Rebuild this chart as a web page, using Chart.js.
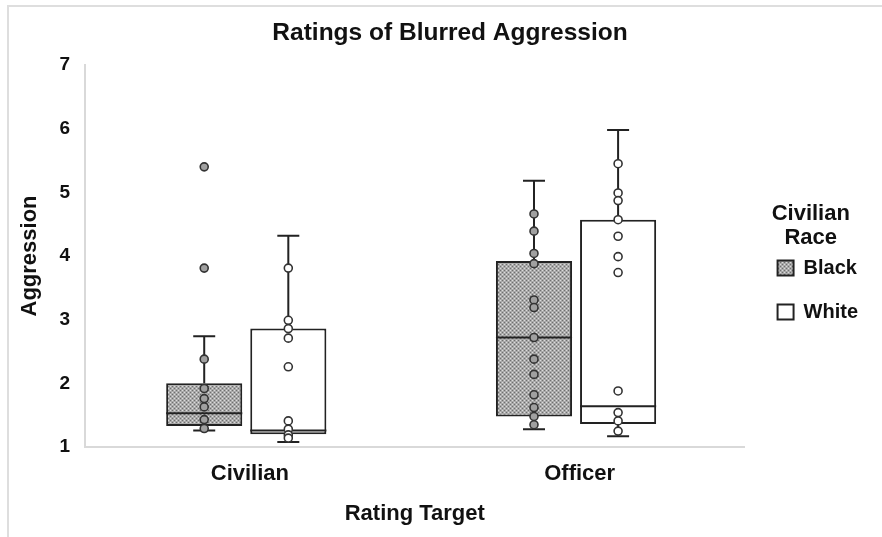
<!DOCTYPE html>
<html>
<head>
<meta charset="utf-8">
<script src="https://cdn.jsdelivr.net/npm/chart.js@4.4.1/dist/chart.umd.min.js"></script>
<style>
  html, body { margin: 0; padding: 0; background: #fff; }
  #wrap { position: relative; width: 882px; height: 537px; overflow: hidden; }
  #frame { position: absolute; left: 7px; top: 5px; width: 900px; height: 600px;
           border-top: 2px solid #dedede; border-left: 2px solid #dedede; }
  canvas { position: absolute; left: 0; top: 0; }
</style>
</head>
<body>
<div id="wrap">
  <div id="frame"></div>
  <canvas id="boxChart" width="882" height="537"></canvas>
</div>
<script>
const categories = ["Civilian", "Officer"];
const raceLabels = ["Black", "White"];

// box statistics, one value per category
const blackQ1 = [1.33, 1.48];
const blackQ3 = [2.00, 3.92];
const blackMedian = [1.53, 2.72];
const blackWhiskerLow = [1.26, 1.28];
const blackWhiskerHigh = [2.74, 5.18];

const whiteQ1 = [1.20, 1.36];
const whiteQ3 = [2.86, 4.57];
const whiteMedian = [1.26, 1.64];
const whiteWhiskerLow = [1.08, 1.17];
const whiteWhiskerHigh = [4.32, 5.98];

// individual ratings
const blackCivilianPoints = [5.40, 3.81, 2.38, 1.92, 1.76, 1.63, 1.43, 1.29];
const blackOfficerPoints = [4.66, 4.39, 4.04, 3.88, 3.31, 3.19, 2.72, 2.38, 2.14, 1.82, 1.62, 1.48, 1.35];
const whiteCivilianPoints = [3.81, 2.99, 2.86, 2.71, 2.26, 1.41, 1.28, 1.19, 1.14];
const whiteOfficerPoints = [5.45, 4.99, 4.87, 4.57, 4.31, 3.99, 3.74, 1.88, 1.54, 1.41, 1.25];

const yTicks = [1, 2, 3, 4, 5, 6, 7];

// black box sits left of the category, white box right
const shift = 0.1275;
const nudge = -0.011; // boxes sit a touch left of the labels in the original

// dotted grey fill like the original
function makePattern() {
  const c = document.createElement('canvas');
  c.width = 4; c.height = 4;
  const g = c.getContext('2d');
  g.fillStyle = '#a9a9a9';
  g.fillRect(0, 0, 4, 4);
  g.fillStyle = '#dcdcdc';
  g.fillRect(0, 0, 1, 1);
  g.fillRect(2, 2, 1, 1);
  g.fillStyle = '#6f6f6f';
  g.fillRect(2, 0, 1, 1);
  g.fillRect(0, 2, 1, 1);
  return g.createPattern(c, 'repeat');
}

const ctx_box = document.getElementById('boxChart').getContext('2d');
const greyFill = makePattern();

function toBoxes(q1, q3, dx) {
  return q1.map((q, i) => ({x: i + nudge + dx, y: [q, q3[i]]}));
}
function toPoints(civ, off, dx) {
  return civ.map(v => ({x: 0 + nudge + dx, y: v})).concat(off.map(v => ({x: 1 + nudge + dx, y: v})));
}

const stats = [
  {lo: blackWhiskerLow, hi: blackWhiskerHigh, med: blackMedian},
  {lo: whiteWhiskerLow, hi: whiteWhiskerHigh, med: whiteMedian}
];

const whiskerPlugin = {
  id: 'whiskers',
  afterDatasetDraw(chart, args) {
    const meta = args.meta;
    if (meta.type !== 'bar') return;
    const s = stats[args.index];
    const y = chart.scales.y;
    const c = chart.ctx;
    c.save();
    c.strokeStyle = '#222';
    c.lineWidth = 2;
    meta.data.forEach((el, i) => {
      const raw = chart.data.datasets[args.index].data[i].y;
      const half = el.width / 2;
      const cap = 11;
      const yTop = y.getPixelForValue(raw[1]);
      const yBot = y.getPixelForValue(raw[0]);
      const yHi = y.getPixelForValue(s.hi[i]);
      const yLo = y.getPixelForValue(s.lo[i]);
      const yMed = y.getPixelForValue(s.med[i]);
      c.beginPath();
      c.moveTo(el.x, yTop); c.lineTo(el.x, yHi);
      c.moveTo(el.x - cap, yHi); c.lineTo(el.x + cap, yHi);
      c.moveTo(el.x, yBot); c.lineTo(el.x, yLo);
      c.moveTo(el.x - cap, yLo); c.lineTo(el.x + cap, yLo);
      c.moveTo(el.x - half, yMed); c.lineTo(el.x + half, yMed);
      c.stroke();
    });
    c.restore();
  }
};

const boldFont = (size, lh) => ({family: '"Liberation Sans", Arial, sans-serif', size: size, weight: 'bold', lineHeight: lh || 1.2});

const config_box = {
  type: 'bar',
  data: {
    datasets: [
      {
        label: raceLabels[0],
        data: toBoxes(blackQ1, blackQ3, -shift),
        backgroundColor: greyFill,
        borderColor: '#222',
        borderWidth: 2,
        borderSkipped: false,
        grouped: false,
        categoryPercentage: 1,
        barPercentage: 0.905,
        order: 1
      },
      {
        label: raceLabels[1],
        data: toBoxes(whiteQ1, whiteQ3, shift),
        backgroundColor: '#ffffff',
        borderColor: '#222',
        borderWidth: 2,
        borderSkipped: false,
        grouped: false,
        categoryPercentage: 1,
        barPercentage: 0.905,
        order: 1
      },
      {
        type: 'scatter',
        label: 'black points',
        data: toPoints(blackCivilianPoints, blackOfficerPoints, -shift),
        pointRadius: 4,
        pointBorderWidth: 1.6,
        pointBorderColor: '#333',
        pointBackgroundColor: '#a0a0a0',
        order: 0
      },
      {
        type: 'scatter',
        label: 'white points',
        data: toPoints(whiteCivilianPoints, whiteOfficerPoints, shift),
        pointRadius: 4,
        pointBorderWidth: 1.6,
        pointBorderColor: '#333',
        pointBackgroundColor: '#ffffff',
        order: 0
      }
    ]
  },
  options: {
    responsive: false,
    animation: false,
    layout: {padding: {left: 32, right: 14, bottom: 0, top: 0}},
    scales: {
      x: {
        type: 'linear',
        min: -0.5,
        max: 1.5,
        offset: false,
        afterBuildTicks: axis => { axis.ticks = categories.map((c, i) => ({value: i})); },
        afterFit: axis => { axis.height = 90; },
        grid: {display: false, drawTicks: false, offset: false},
        border: {color: '#d9d9d9', width: 2},
        ticks: {color: '#111', font: boldFont(22), padding: 14, callback: v => categories[v]},
        title: {display: true, text: 'Rating Target', color: '#111', font: boldFont(22), padding: {top: 0, bottom: 10}}
      },
      y: {
        min: 1,
        max: 7,
        afterBuildTicks: axis => { axis.ticks = yTicks.map(v => ({value: v})); },
        afterFit: axis => { axis.width = 53; },
        grid: {display: false, drawTicks: false},
        border: {color: '#d9d9d9', width: 2},
        ticks: {color: '#111', font: boldFont(19), padding: 15},
        title: {display: true, text: 'Aggression', color: '#111', font: boldFont(22), padding: {top: -15, bottom: 0}}
      },
      gap: {
        type: 'linear',
        position: 'right',
        afterFit: axis => { axis.width = 9; },
        grid: {display: false, drawTicks: false},
        border: {display: false},
        ticks: {display: false}
      }
    },
    plugins: {
      title: {
        display: true,
        text: 'Ratings of Blurred Aggression',
        color: '#111',
        font: boldFont(24.5),
        padding: {top: 19, bottom: 16.6}
      },
      legend: {
        position: 'right',
        labels: {
          filter: item => item.datasetIndex < 2,
          color: '#111',
          font: boldFont(20),
          boxWidth: 16,
          boxHeight: 15,
          padding: 24
        },
        title: {
          display: true,
          text: ['Civilian', 'Race'],
          color: '#111',
          font: boldFont(22, 1.1),
          padding: {top: 12, bottom: 6.8}
        }
      },
      tooltip: {enabled: false}
    }
  },
  plugins: [whiskerPlugin]
};

const myChart_box = new Chart(ctx_box, config_box);
</script>
</body>
</html>
